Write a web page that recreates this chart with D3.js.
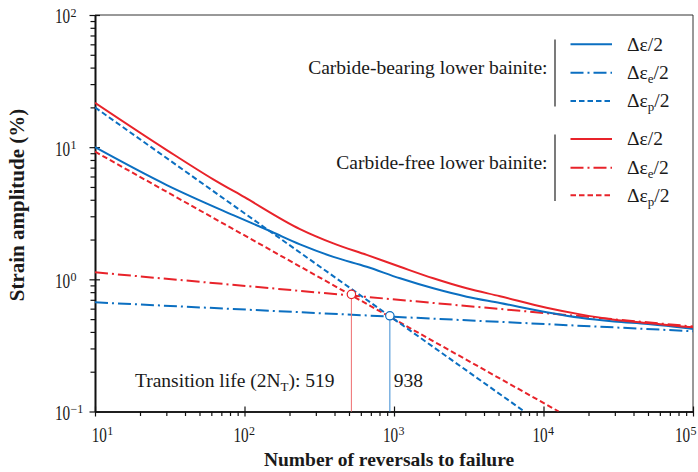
<!DOCTYPE html>
<html><head><meta charset="utf-8">
<script src="https://cdn.jsdelivr.net/npm/d3@7"></script>
<style>
body{margin:0;background:#fff}
svg{display:block}
text{font-family:"Liberation Serif","Times New Roman",serif;fill:#1a1a1a}
</style>
</head><body>
<svg id="c" width="698" height="472"></svg>
<script>
// ---- data ----
const cbTotalN = [10,30.2,84.1,152,235,393,657,1097,1832,3064,5117,10479,17620,29650,50000,83950,100000];
const cbTotal  = [10.0,5.17,3.06,2.29,1.84,1.48,1.245,1.018,0.855,0.739,0.662,0.564,0.512,0.480,0.459,0.432,0.421];
const cbElasticN = [10,100000];
const cbElastic  = [0.67,0.405];
const cbPlasticN = [10,7450];
const cbPlastic  = [20.0,0.1];

const cfTotalN = [10,30.2,61.8,100,235,393,657,1097,1832,3064,5117,10479,17620,29650,50000,83950,100000];
const cfTotal  = [21.67,9.51,5.71,4.18,2.40,1.87,1.53,1.245,1.018,0.855,0.745,0.610,0.543,0.495,0.467,0.440,0.433];
const cfElasticN = [10,100000];
const cfElastic  = [1.13,0.44];
const cfPlasticN = [10,12650];
const cfPlastic  = [9.25,0.1];

const transLife   = [519,938];
const transStrain = [0.77,0.53];
const transLabels = ["519","938"];

const xMajor = [10,100,1000,10000,100000];
const xExp   = ["1","2","3","4","5"];
const yMajor = [0.1,1,10,100];
const yExp   = ["\u22121","0","1","2"];

const groupNames = ["Carbide-bearing lower bainite:","Carbide-free lower bainite:"];
const itemSubs   = ["","e","p"];

// ---- drawing ----
const BLUE = "#0b6fc1", RED = "#e8232a";
const BLUE_L = "#4b95d6", RED_L = "#f07a7c";
const svg = d3.select("#c");
const L=95, R=693, T=15, B=411.5;
const x = d3.scaleLog().domain([10,1e5]).range([L,R]);
const y = d3.scaleLog().domain([0.1,100]).range([B,T]);

svg.append("defs").append("clipPath").attr("id","pc")
  .append("rect").attr("x",L).attr("y",T).attr("width",R-L).attr("height",B-T);

// frame (top/right)
svg.append("path").attr("d",`M${L},${T}H${R}V${B}`).attr("fill","none").attr("stroke","#333").attr("stroke-width",1);

const isPow = v => Math.abs(Math.log10(v)-Math.round(Math.log10(v)))<1e-9;

// x axis
const gx = svg.append("g").attr("transform",`translate(0,${B})`);
gx.call(d3.axisBottom(x).tickValues(x.ticks().filter(v=>!isPow(v))).tickSize(4.5).tickSizeOuter(0).tickFormat(""));
const gx2 = svg.append("g").attr("transform",`translate(0,${B})`);
gx2.call(d3.axisBottom(x).tickValues(xMajor).tickSize(5).tickSizeOuter(0).tickFormat(""));
gx2.selectAll(".tick line").attr("y1",-5);
// y axis
const gy = svg.append("g").attr("transform",`translate(${L},0)`);
gy.call(d3.axisLeft(y).tickValues(y.ticks().filter(v=>!isPow(v))).tickSize(4.5).tickSizeOuter(0).tickFormat(""));
const gy2 = svg.append("g").attr("transform",`translate(${L},0)`);
gy2.call(d3.axisLeft(y).tickValues(yMajor).tickSize(5.5).tickSizeOuter(0).tickFormat(""));
gy2.selectAll(".tick line").attr("x1",5);
svg.selectAll(".domain").attr("stroke","#111").attr("stroke-width",1.6);
svg.selectAll(".tick line").attr("stroke","#111").attr("stroke-width",1.2);

function pow10(xx, yy, exp){
  svg.append("text").attr("transform",`translate(${xx},${yy}) scale(0.76,1)`).attr("font-size",20).text("10");
  svg.append("text").attr("x",xx+15.5).attr("y",yy-6.5).attr("font-size",12).text(exp);
}
yMajor.forEach((v,i)=>pow10(55, y(v)+8.4, yExp[i]));
xMajor.forEach((v,i)=>{
  let s = x(v)-11;
  s = Math.max(91.7, Math.min(s, 697-22));
  pow10(s, 441.7, xExp[i]);
});

// titles
svg.append("text").attr("x",(L+R)/2-5).attr("y",466).attr("text-anchor","middle")
  .attr("font-size",19.5).attr("font-weight","bold").text("Number of reversals to failure");
svg.append("text").attr("transform",`translate(24,205) rotate(-90)`).attr("text-anchor","middle")
  .attr("font-size",21).attr("font-weight","bold").text("Strain amplitude (%)");

// curves
const plot = svg.append("g").attr("clip-path","url(#pc)");
const line = d3.line().x(d=>x(d[0])).y(d=>y(d[1]));
const sline = d3.line().x(d=>x(d[0])).y(d=>y(d[1])).curve(d3.curveMonotoneX);
const zip = (a,b)=>a.map((v,i)=>[v,b[i]]);
const DASH = "5.5,3", DASHDOT = "13,4,2,4";
const series = [
  {n:cbElasticN, v:cbElastic, c:BLUE, d:DASHDOT, g:line},
  {n:cfElasticN, v:cfElastic, c:RED,  d:DASHDOT, g:line},
  {n:cfPlasticN, v:cfPlastic, c:RED,  d:DASH, g:line},
  {n:cbPlasticN, v:cbPlastic, c:BLUE, d:DASH, g:line},
  {n:cbTotalN, v:cbTotal, c:BLUE, d:null, g:sline},
  {n:cfTotalN, v:cfTotal, c:RED,  d:null, g:sline},
];
series.forEach(s=>{
  plot.append("path").attr("d",s.g(zip(s.n,s.v))).attr("fill","none")
    .attr("stroke",s.c).attr("stroke-width",2).attr("stroke-dasharray",s.d);
});

// transition markers
const tCol = [RED_L, BLUE_L], tCirc=[RED,BLUE];
transLife.forEach((n,i)=>{
  svg.append("line").attr("x1",x(n)).attr("x2",x(n)).attr("y1",y(transStrain[i])+4).attr("y2",B)
    .attr("stroke",tCol[i]).attr("stroke-width",1.1);
  svg.append("circle").attr("cx",x(n)).attr("cy",y(transStrain[i])).attr("r",4.2)
    .attr("fill","#fff").attr("stroke",tCirc[i]).attr("stroke-width",1.2);
});
const tt = svg.append("text").attr("x",135).attr("y",386.7).attr("font-size",19.5);
tt.append("tspan").text("Transition life (2N");
tt.append("tspan").attr("font-size",13).attr("dy",4).text("T");
tt.append("tspan").attr("dy",-4).text("): "+transLabels[0]);
svg.append("text").attr("x",x(transLife[1])+4).attr("y",386.7).attr("font-size",19.5).text(transLabels[1]);

// legend
const rowY = [[44.2,72.7,100.9],[139.1,167.7,195.2]];
const gCol = [BLUE, RED];
const gDash = [null, DASHDOT, DASH];
groupNames.forEach((name,g)=>{
  svg.append("text").attr("x",547.5).attr("y",rowY[g][1]+(g===0?1.7:1.6)).attr("text-anchor","end")
    .attr("font-size",19.5).text(name);
  svg.append("line").attr("x1",555).attr("x2",555).attr("y1",rowY[g][0]-4.7).attr("y2",rowY[g][2]+5.7)
    .attr("stroke","#222").attr("stroke-width",1.2);
  itemSubs.forEach((sub,k)=>{
    const yy = rowY[g][k];
    svg.append("line").attr("x1",570.5).attr("x2",612).attr("y1",yy).attr("y2",yy)
      .attr("stroke",gCol[g]).attr("stroke-width",2).attr("stroke-dasharray",gDash[k]);
    const t = svg.append("text").attr("x",627).attr("y",yy+6.3).attr("font-size",19.5);
    t.append("tspan").text("\u0394\u03b5");
    if(sub){
      t.append("tspan").attr("font-size",13).attr("dy",4).text(sub);
      t.append("tspan").attr("dy",-4).text("/2");
    } else t.append("tspan").text("/2");
  });
});
</script>
</body></html>
